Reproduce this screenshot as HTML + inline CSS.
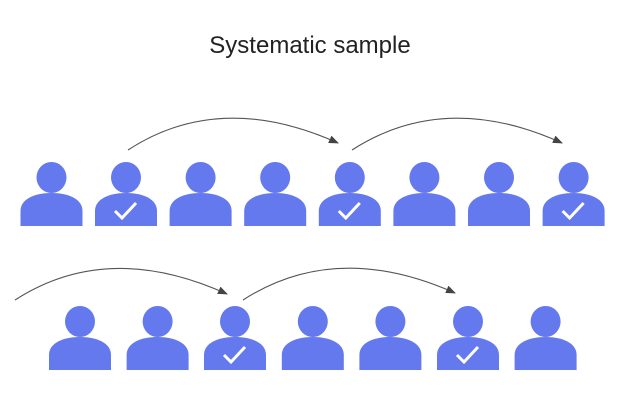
<!DOCTYPE html>
<html><head><style>
html,body{margin:0;padding:0;background:#fff;width:623px;height:404px;overflow:hidden}
</style></head><body>
<svg width="623" height="404" viewBox="0 0 623 404" xmlns="http://www.w3.org/2000/svg">
<defs>
<marker id="ah" markerWidth="10" markerHeight="8" refX="9" refY="4" orient="auto" markerUnits="userSpaceOnUse">
<path d="M0,0 L10,4 L0,8 Z" fill="#444"/>
</marker>
<g id="p">
<ellipse cx="0" cy="-15.5" rx="15" ry="15.5" fill="#6479ED"/>
<path d="M-31,33 V18 C-31,6 -17,0 0,0 C17,0 31,6 31,18 V33 Z" fill="#6479ED"/>
</g>
<g id="c">
<use href="#p"/>
<path d="M-11,18 L-4,25 L10,10" fill="none" stroke="#fff" stroke-width="3"/>
</g>
</defs>
<text x="310" y="53" text-anchor="middle" font-family="Liberation Sans, sans-serif" font-size="24" fill="#222">Systematic sample</text>
<g fill="none" stroke="#555" stroke-width="1.1">
<path d="M128,150 Q220,90 338,143" marker-end="url(#ah)"/>
<path d="M352,150 Q445,90 562,143" marker-end="url(#ah)"/>
<path d="M15,300 Q108,240 227,294" marker-end="url(#ah)"/>
<path d="M243,300 Q336,240 455,293" marker-end="url(#ah)"/>
</g>
<use href="#p" x="51.5" y="193"/>
<use href="#c" x="126" y="193"/>
<use href="#p" x="200.6" y="193"/>
<use href="#p" x="275.2" y="193"/>
<use href="#c" x="349.8" y="193"/>
<use href="#p" x="424.4" y="193"/>
<use href="#p" x="499" y="193"/>
<use href="#c" x="573.6" y="193"/>
<use href="#p" x="80" y="337"/>
<use href="#p" x="157.6" y="337"/>
<use href="#c" x="235" y="337"/>
<use href="#p" x="312.8" y="337"/>
<use href="#p" x="390.4" y="337"/>
<use href="#c" x="468" y="337"/>
<use href="#p" x="545.6" y="337"/>
</svg>
</body></html>
